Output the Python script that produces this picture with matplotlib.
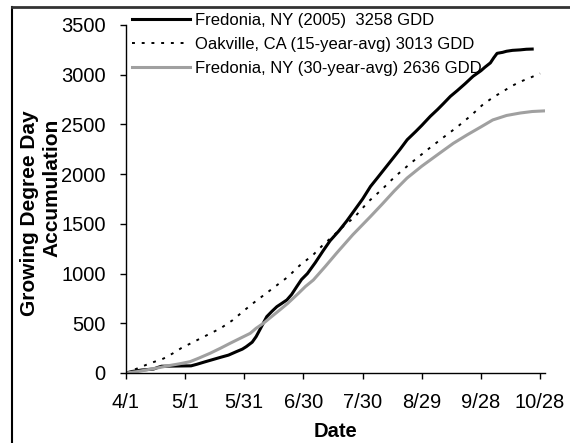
import matplotlib
matplotlib.use("Agg")
import matplotlib.pyplot as plt
from matplotlib.lines import Line2D

plt.rcParams['font.family'] = ['Liberation Sans', 'DejaVu Sans']

# days after 4/1 and growing degree day accumulation
fred05_days = [0, 3, 8, 14, 16, 18, 25, 33, 36, 40, 44, 48, 52, 56, 59, 61, 64, 66, 68,
               71.4, 74, 76.5, 79, 81.6, 84, 86.6, 89, 92, 96, 100, 103.5, 108, 112,
               116, 120, 124, 127.4, 131, 135, 139, 142.6, 147, 150, 154.3, 158, 161,
               164.5, 168, 172, 176, 180, 182, 184.8, 186.5, 188.2, 191, 193, 196, 200,
               203, 206]
fred05_gdd = [0, 15, 30, 40, 55, 68, 70, 72, 88, 112, 135, 158, 180, 215, 240, 265, 310,
              366, 440, 567, 620, 667, 700, 735, 790, 869, 940, 1000, 1110, 1230, 1330,
              1430, 1530, 1640, 1750, 1876, 1960, 2050, 2150, 2250, 2346, 2430, 2490,
              2581, 2650, 2710, 2782, 2840, 2910, 2984, 3040, 3075, 3119, 3170, 3215,
              3225, 3236, 3245, 3250, 3256, 3258]

oak_days = [0, 5, 10, 14, 19, 24, 28, 33, 38, 43, 48, 54, 60, 65, 70, 75, 78, 82, 88, 95,
            100, 104, 110, 116, 123, 130, 136.5, 145, 154, 161, 168, 175, 181, 186, 191,
            196, 200, 205, 210]
oak_gdd = [0, 40, 80, 110, 145, 200, 250, 300, 350, 400, 450, 530, 630, 710, 785, 860,
           905, 965, 1080, 1190, 1290, 1360, 1470, 1570, 1725, 1850, 1977, 2120, 2263,
           2370, 2475, 2590, 2700, 2770, 2830, 2890, 2930, 2970, 3013]

fred30_days = [0, 6, 12, 17, 22, 27, 32.5, 37, 42.6, 48, 52.8, 58, 63, 66, 69.7, 74, 78,
               82, 87.5, 91, 95, 101, 107, 115, 124, 130, 136, 142.5, 150, 159, 166, 173,
               180, 186, 193, 200, 206, 212]
fred30_gdd = [0, 15, 37, 55, 75, 92, 114, 150, 198, 250, 299, 350, 399, 450, 500, 570,
              634, 700, 802, 870, 935, 1070, 1210, 1390, 1574, 1700, 1830, 1960, 2080,
              2210, 2310, 2395, 2475, 2545, 2590, 2615, 2630, 2636]

tick_days = [0, 30, 60, 90, 120, 150, 180, 210]
tick_labels = ['4/1', '5/1', '5/31', '6/30', '7/30', '8/29', '9/28', '10/28']

W, H = 570, 443
fig = plt.figure(figsize=(W / 100, H / 100), dpi=100)
ax = fig.add_axes([126 / W, 1 - 373 / H, 419 / W, 348 / H])

ax.plot(fred05_days, fred05_gdd, color='black', lw=2.2,
        label='Fredonia, NY (2005)  3258 GDD')
ax.plot(oak_days, oak_gdd, color='black', lw=1.4, linestyle=(0, (1.5, 3.5)),
        label='Oakville, CA (15-year-avg) 3013 GDD')
ax.plot(fred30_days, fred30_gdd, color='#a0a0a0', lw=2.2,
        label='Fredonia, NY (30-year-avg) 2636 GDD')

ax.set_xlim(0, 212.5)
ax.set_ylim(0, 3500)
ax.set_xticks(tick_days)
ax.set_xticklabels(tick_labels)
ax.set_yticks(range(0, 3501, 500))
ax.tick_params(direction='out', length=4.5, width=1, labelsize=14.5)
ax.tick_params(axis='x', pad=10)
ax.tick_params(axis='y', pad=10)
for s in ['top', 'right']:
    ax.spines[s].set_visible(False)
for s in ['left', 'bottom']:
    ax.spines[s].set_linewidth(1)

ax.set_xlabel('Date', fontsize=14.5, fontweight='bold', labelpad=7)

# two-line y label, placed as separate lines
fig.text(30 / W, 1 - 213 / H, 'Growing Degree Day', rotation=90, ha='center',
         va='center', fontsize=15, fontweight='bold')
fig.text(52 / W, 1 - 188 / H, 'Accumulation', rotation=90, ha='center',
         va='center', fontsize=15, fontweight='bold')

fig.legend(loc='upper left', bbox_to_anchor=(132 / W, 1 - 13 / H), frameon=False,
           fontsize=12, handlelength=3.5, handletextpad=0.3, labelspacing=0.54,
           borderpad=0, borderaxespad=0)

# outer frame (left and top edges visible)
fig.add_artist(Line2D([12 / W, 12 / W], [0, 1 - 6.5 / H], color='black', lw=1.5,
                      transform=fig.transFigure))
fig.add_artist(Line2D([12 / W, 1], [1 - 6.5 / H, 1 - 6.5 / H], color='#333333',
                      lw=2, transform=fig.transFigure))

fig.savefig('out.png', dpi=100)
